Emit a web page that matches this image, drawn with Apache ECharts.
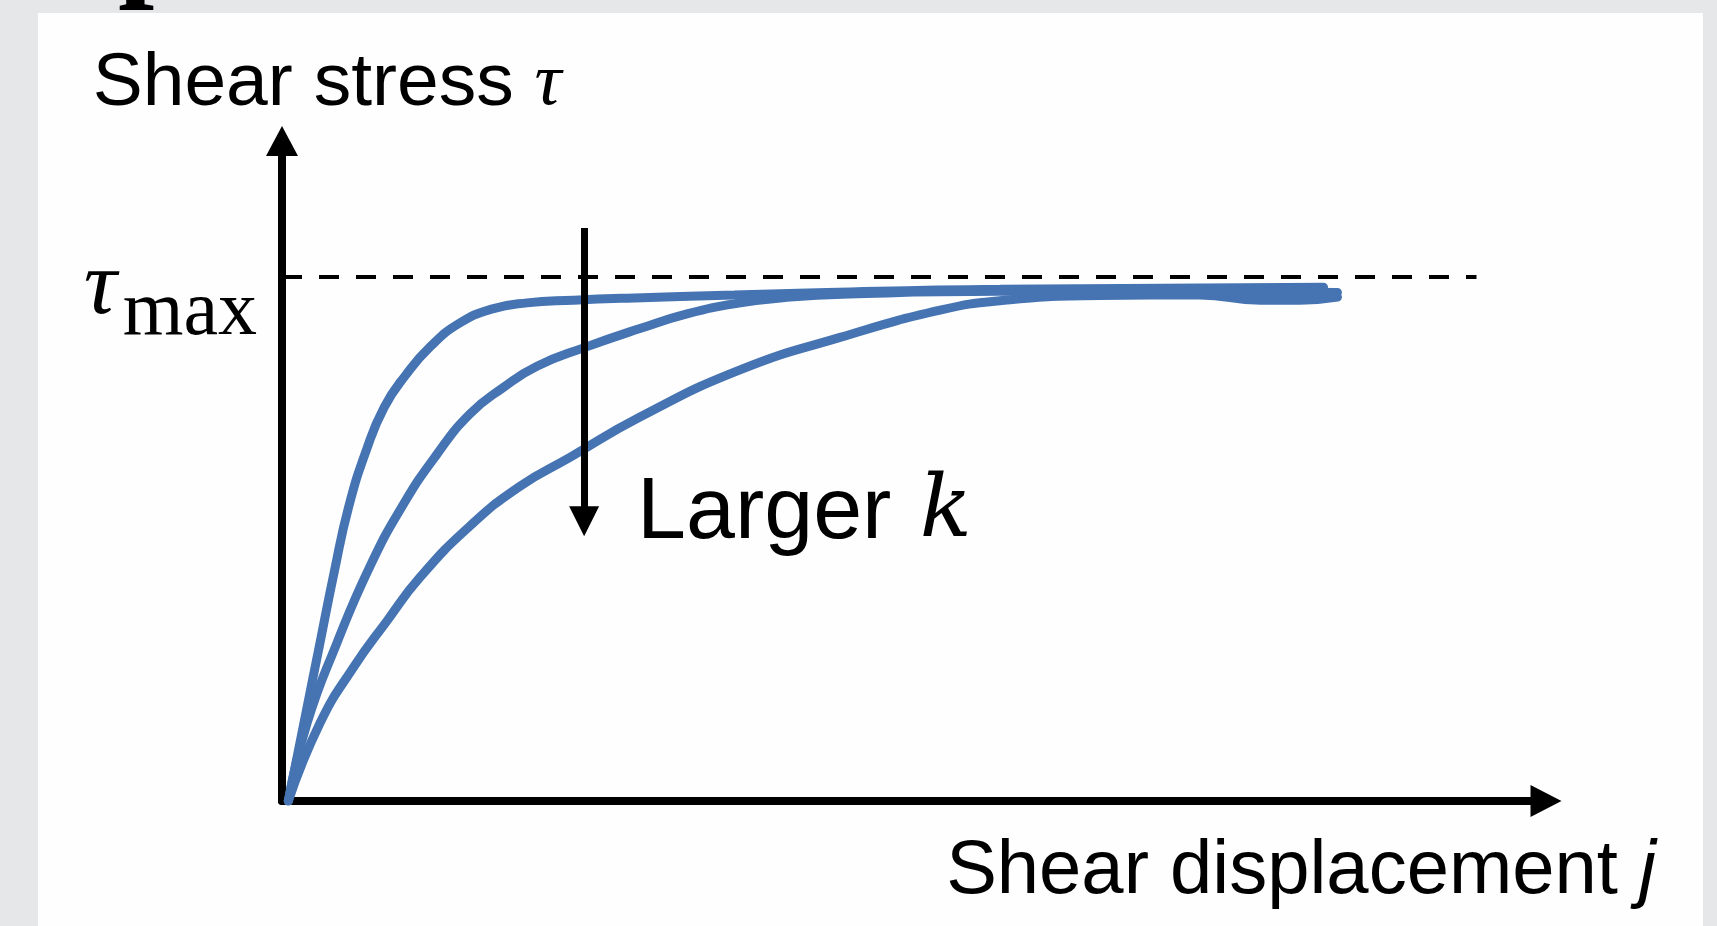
<!DOCTYPE html>
<html>
<head>
<meta charset="utf-8">
<script src="https://cdn.jsdelivr.net/npm/echarts@6/dist/echarts.min.js"></script>
<style>
html, body { margin: 0; padding: 0; background: #e6e7e9; }
#main { width: 1717px; height: 926px; }
</style>
</head>
<body>
<div id="main"></div>
<script>
// shear displacement j vs shear stress (tau / tau_max)
const curve_small_k = [[0.5,0],[1.875,0.166],[3.006,0.302],[4.138,0.438],[5.269,0.561],[6.677,0.67],[8.093,0.752],[9.786,0.813],[11.76,0.868],[14.03,0.912],[16.57,0.939],[19.39,0.951],[23.07,0.956],[27.29,0.96],[35.78,0.966],[43.12,0.971],[56.8,0.977],[82.4,0.981]]
const curve_mid_k = [[0.5,0],[2.0,0.15],[4.35,0.302],[6.96,0.448],[9.57,0.565],[12.26,0.662],[14.87,0.739],[17.48,0.789],[20.17,0.83],[23.97,0.866],[28.32,0.902],[32.04,0.93],[36.0,0.95],[40.2,0.962],[44.9,0.968],[56.8,0.973],[70.0,0.973],[83.5,0.971]]
const curve_large_k = [[0.5,0],[3.01,0.149],[5.62,0.254],[8.31,0.344],[10.92,0.427],[14.87,0.525],[18.83,0.601],[22.78,0.656],[28.32,0.733],[36.23,0.823],[44.15,0.885],[52.06,0.937],[56.8,0.955],[64.7,0.965],[72.6,0.966],[77.4,0.956],[80.5,0.956],[83.5,0.962]]

const tau_max = 1
const tau_max_line_end = 94.5
// "Larger k" arrow: j position, top and bottom stress values
const k_arrow = [23.9, 1.094, 0.534]

const blue = '#4674b2'
const sans = 'Liberation Sans'
const serif = 'Liberation Serif'

let chart = echarts.init(document.getElementById('main'))

let line_series = (data, extra) => {
    let s = {
        type: 'line',
        data: data,
        smooth: 0.5,
        showSymbol: false,
        silent: true,
        lineStyle: { color: blue, width: 9, cap: 'round' },
        z: 3
    }
    for (let key in extra) s[key] = extra[key]
    return s
}

let option = {
    backgroundColor: '#e6e7e9',
    animation: false,
    graphic: [
        // white slide panel
        { type: 'rect', left: 38, top: 13, shape: { width: 1665, height: 913 }, style: { fill: '#fefefe' }, z: -10 },
        // bottom of a cut-off title glyph
        { type: 'text', x: 118, y: 13, style: { text: 'p', fontFamily: serif, fontWeight: 'bold', fontSize: 130, fill: '#000', verticalAlign: 'bottom' }, z: -5 },
        {
            type: 'text', x: 637, y: 514,
            style: {
                text: 'Larger {k|k}',
                fontFamily: sans, fontSize: 88, fill: '#000', verticalAlign: 'middle',
                rich: { k: { fontFamily: 'DejaVu Serif', fontStyle: 'italic', fontSize: 86, fill: '#000', padding: [0, 0, 0, 4] } }
            }
        }
    ],
    grid: { left: 282, right: 171, top: 141, bottom: 125 },
    xAxis: {
        type: 'value',
        min: 0,
        max: 100,
        name: 'Shear displacement {j|j}',
        nameLocation: 'end',
        nameGap: 0,
        nameTextStyle: {
            fontFamily: sans, fontSize: 76, color: '#000',
            align: 'center', verticalAlign: 'top',
            padding: [33, 490, 0, 0],
            rich: { j: { fontFamily: sans, fontStyle: 'italic', fontSize: 76, color: '#000' } }
        },
        axisLine: { lineStyle: { color: '#000', width: 8 }, symbol: ['none', 'triangle'], symbolSize: [32, 31] },
        axisTick: { show: false },
        axisLabel: { show: false },
        splitLine: { show: false }
    },
    yAxis: {
        type: 'value',
        min: 0,
        max: 1.26,
        interval: 1,
        name: 'Shear stress {t|τ}',
        nameLocation: 'end',
        nameGap: 19,
        nameTextStyle: {
            fontFamily: sans, fontSize: 75, color: '#000',
            align: 'center', verticalAlign: 'bottom',
            padding: [0, 0, 0, 90],
            rich: { t: { fontFamily: serif, fontStyle: 'italic', fontSize: 75, color: '#000' } }
        },
        axisLine: { lineStyle: { color: '#000', width: 8 }, symbol: ['none', 'triangle'], symbolSize: [32, 30] },
        axisTick: { show: false },
        axisLabel: {
            margin: 25,
            padding: [24, 0, 0, 0],
            formatter: (v) => v === tau_max ? '{t|τ}{m|max}' : '',
            rich: {
                t: { fontFamily: serif, fontStyle: 'italic', fontSize: 92, color: '#000', padding: [0, 6, 0, 0] },
                m: { fontFamily: serif, fontSize: 78, color: '#000', padding: [48, 0, 0, 0] }
            }
        },
        splitLine: { show: false }
    },
    series: [
        line_series(curve_small_k, {
            markLine: {
                silent: true,
                symbol: ['none', 'none'],
                label: { show: false },
                data: [
                    [
                        { coord: [0, tau_max], lineStyle: { color: '#000', width: 4, type: [20, 17] } },
                        { coord: [tau_max_line_end, tau_max] }
                    ],
                    [
                        { coord: [k_arrow[0], k_arrow[1]], symbol: 'none', lineStyle: { color: '#000', width: 7, type: 'solid' } },
                        { coord: [k_arrow[0], k_arrow[2]], symbol: 'triangle', symbolSize: [30, 30] }
                    ]
                ]
            }
        }),
        line_series(curve_mid_k),
        line_series(curve_large_k)
    ]
}

chart.setOption(option)
</script>
</body>
</html>
